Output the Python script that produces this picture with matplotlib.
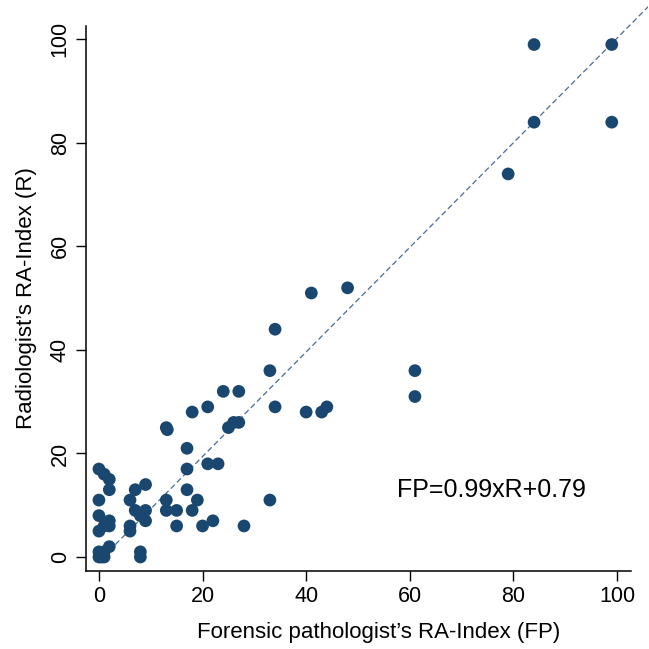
import numpy as np
import matplotlib.pyplot as plt

plt.rcParams['font.family'] = ['Liberation Sans', 'DejaVu Sans']

# RA-Index scores (x: forensic pathologist, y: radiologist)
fp_scores = [84, 99, 84, 99, 79, 48, 41, 34, 33, 61, 61, 34, 40, 43, 44,
             24, 27, 21, 18, 13, 13.2, 25, 26, 27, 17, 21, 23, 17, 17, 19,
             18, 20, 22, 28, 33, 13, 13, 15, 15, 9, 9, 9, 8, 7, 7, 6, 6, 6,
             8, 8, 0, 1, 2, 2, 0, 0, 2, 1, 2, 0, 2, 0, 0, 1, 1, 0.5]
r_scores = [99, 99, 84, 84, 74, 52, 51, 44, 36, 36, 31, 29, 28, 28, 29,
            32, 32, 29, 28, 25, 24.6, 25, 26, 26, 21, 18, 18, 17, 13, 11,
            9, 6, 7, 6, 11, 11, 9, 9, 6, 14, 9, 7, 8, 13, 9, 11, 6, 5,
            1, 0, 17, 16, 15, 13, 11, 8, 7, 6, 6, 5, 2, 1, 0, 0, 1, 0]

# fitted line FP = slope*R + intercept
slope = 0.99
intercept = 0.79
fit_label = 'FP=0.99xR+0.79'

x_ticks = [0, 20, 40, 60, 80, 100]
y_ticks = [0, 20, 40, 60, 80, 100]

fig = plt.figure(figsize=(6.49, 6.49), dpi=100)
ax = fig.add_axes([0.1325, 0.1202, 0.866, 0.875])

navy = '#1a476f'
ax.scatter(fp_scores, r_scores, s=84, color=navy, edgecolors='none', zorder=3)

# regression line drawn in the x-y plane: y = (x - intercept) / slope
x_line = np.array([intercept, 106.5])
y_line = (x_line - intercept) / slope
ax.plot(x_line, y_line, color='#4a6a9a', lw=0.9, dashes=(4.5, 2.5), zorder=2)

ax.text(57.5, 13, fit_label, fontsize=18, va='center', ha='left')

ax.set_xlim(-2.5, 106)
ax.set_ylim(-2.7, 107)
ax.set_xticks(x_ticks)
ax.set_yticks(y_ticks)
ax.tick_params(axis='both', labelsize=15.5, length=7, width=1, direction='out', pad=4)
for lbl in ax.get_yticklabels():
    lbl.set_rotation(90)
    lbl.set_va('center')

ax.spines['top'].set_visible(False)
ax.spines['right'].set_visible(False)
ax.spines['left'].set_bounds(-2.7, 102.5)
ax.spines['bottom'].set_bounds(-2.5, 102.7)
ax.spines['left'].set_linewidth(1.1)
ax.spines['bottom'].set_linewidth(1.1)

ax.set_xlabel("Forensic pathologist’s RA-Index (FP)", fontsize=16)
ax.set_ylabel("Radiologist’s RA-Index (R)", fontsize=16)
ax.xaxis.set_label_coords(0.521, -0.09)
ax.yaxis.set_label_coords(-0.087, 0.48)

fig.savefig('out.png', dpi=100)
